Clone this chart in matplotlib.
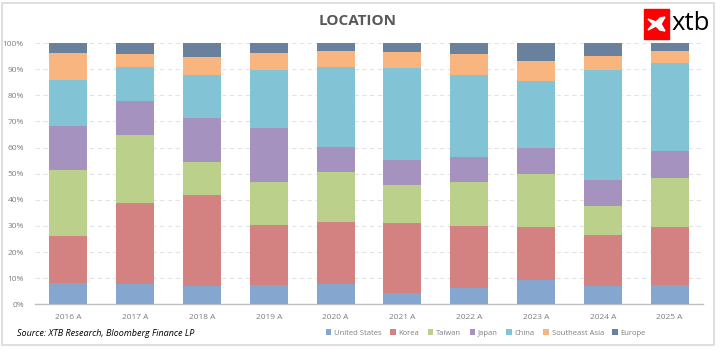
import matplotlib
matplotlib.use("Agg")

import matplotlib.pyplot as plt
from matplotlib.patches import Rectangle, Polygon
import numpy as np

years = ["2016 A", "2017 A", "2018 A", "2019 A", "2020 A",
         "2021 A", "2022 A", "2023 A", "2024 A", "2025 A"]
regions = ["United States", "Korea", "Taiwan", "Japan", "China",
           "Southeast Asia", "Europe"]

# share of each region, % per year
united_states = [8.2, 7.8, 7.0, 7.3, 7.8, 4.3, 6.4, 9.4, 7.0, 7.4]
korea = [17.9, 31.0, 34.8, 23.0, 23.7, 26.8, 23.6, 20.2, 19.5, 22.2]
taiwan = [25.3, 26.0, 12.7, 16.5, 19.1, 14.6, 16.8, 20.3, 11.1, 18.7]
japan = [16.8, 13.0, 16.8, 20.7, 9.6, 9.5, 9.6, 9.9, 10.0, 10.4]
china = [17.6, 13.0, 16.4, 22.3, 30.6, 35.2, 31.3, 25.7, 42.2, 33.6]
southeast_asia = [10.4, 5.0, 6.9, 6.4, 6.2, 6.2, 8.1, 7.6, 5.2, 4.7]
europe = [3.8, 4.2, 5.4, 3.8, 3.0, 3.4, 4.2, 6.9, 5.0, 3.0]

series = [united_states, korea, taiwan, japan, china, southeast_asia, europe]
colors = ["#84A6CF", "#D48181", "#BBD08A", "#A692BF", "#82C4D6",
          "#F9B57F", "#6A819E"]

plt.rcParams["font.family"] = ["Open Sans", "DejaVu Sans"]

W, H = 720, 354
fig = plt.figure(figsize=(W / 100, H / 100), dpi=100)

# outer frame
fig.patches.append(Rectangle((2 / W, 1 - 345 / H), 712 / W, 342 / H,
                             transform=fig.transFigure, fill=False,
                             edgecolor="#D9D9D9", linewidth=1.2))

ax = fig.add_axes([35 / W, 1 - 304.3 / H, 668 / W, 261.3 / H])

x = np.arange(len(years))
bottom = np.zeros(len(years))
for name, vals, col in zip(regions, series, colors):
    vals = np.array(vals)
    ax.bar(x, vals, 0.57, bottom=bottom, color=col, label=name, zorder=3)
    bottom += vals

ax.set_xlim(-0.5, len(years) - 0.5)
ax.set_ylim(0, 100)
ax.set_yticks(np.arange(0, 101, 10))
ax.set_yticklabels([f"{v}%" for v in range(0, 101, 10)])
ax.set_xticks(x)
ax.set_xticklabels(years)
ax.tick_params(axis="both", length=0, labelsize=6, labelcolor="#7F7F7F")
ax.tick_params(axis="x", pad=7)
ax.tick_params(axis="y", pad=8)
ax.yaxis.grid(True, linestyle=(0, (4, 3)), color="#E3E3E3", linewidth=0.8,
              zorder=0)
for s in ["top", "right", "left"]:
    ax.spines[s].set_visible(False)
ax.spines["bottom"].set_color("#BFBFBF")
ax.spines["bottom"].set_linewidth(1.0)

fig.text(358 / W, 1 - 21 / H, "LOCATION", ha="center", va="center",
         fontsize=11, fontweight="bold", color="#595959")

# xtb logo
fig.patches.append(Rectangle((644 / W, 1 - 39 / H), 25 / W, 30 / H,
                             transform=fig.transFigure, color="#FF0000"))
mark = [(648, 19), (656, 22), (660, 18), (665, 17), (661, 24), (665, 31),
        (660, 30), (656, 26), (648, 30), (653, 24)]
fig.patches.append(Polygon([(px / W, 1 - py / H) for px, py in mark],
                           closed=True, transform=fig.transFigure,
                           color="white"))
fig.text(672 / W, 1 - 23 / H, "xtb", ha="left", va="center",
         fontsize=18.5, color="black")

fig.text(17 / W, 1 - 333 / H, "Source: XTB Research, Bloomberg Finance LP",
         ha="left", va="center", fontsize=6.5, style="italic", color="black")

handles, labels = ax.get_legend_handles_labels()
fig.legend(handles, labels, loc="center", bbox_to_anchor=(486 / W, 1 - 333 / H),
           ncol=7, frameon=False, fontsize=5.5, labelcolor="#7F7F7F",
           handlelength=0.7, handleheight=0.7, handletextpad=0.4,
           columnspacing=1.1)

fig.savefig("out.png", dpi=100)
